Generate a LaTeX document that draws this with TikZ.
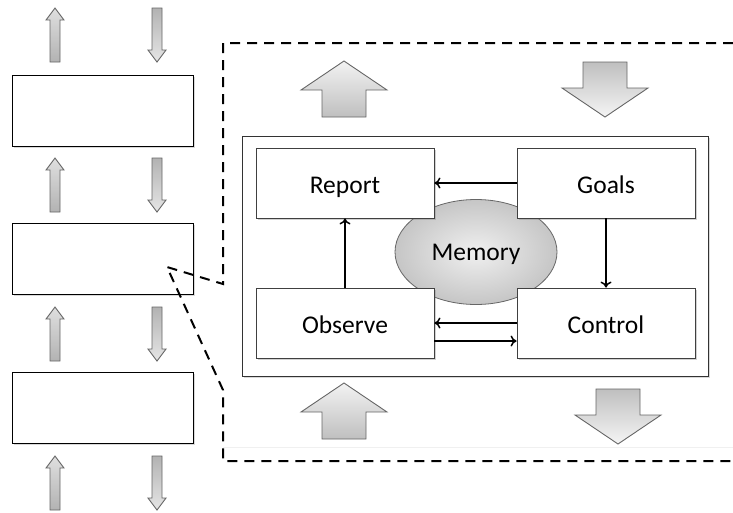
\documentclass[tikz,border=0pt]{standalone}
\usepackage{fontspec}
\setmainfont{Carlito}
\usetikzlibrary{shadows,arrows.meta,shapes.geometric}
\tikzset{
  blk/.style={draw=black!75, line width=0.9pt, fill=white, minimum width=178pt, minimum height=70pt, inner sep=0pt,
    drop shadow={shadow xshift=1.6pt, shadow yshift=-1.6pt, opacity=0.35, fill=gray}, font=\fontsize{25.5}{28}\selectfont,
    text height=21pt, text depth=0pt},
  lbox/.style={draw=black, line width=0.9pt, fill=white, minimum width=181pt, minimum height=71pt, inner sep=0pt,
    drop shadow={shadow xshift=1.6pt, shadow yshift=-1.6pt, opacity=0.3, fill=gray}},
  outer/.style={draw=black!80, line width=0.9pt, fill=white, minimum width=466pt, minimum height=240pt, inner sep=0pt,
    drop shadow={shadow xshift=1.6pt, shadow yshift=-1.6pt, opacity=0.3, fill=gray}},
  mem/.style={ellipse, draw=black!60, line width=0.8pt, inner color=gray!12, outer color=gray!45, minimum width=162pt, minimum height=105pt, inner sep=0pt,
    font=\fontsize{25.5}{28}\selectfont, text height=16pt, text depth=0pt},
  conn/.style={line width=1.8pt, -{To[length=6pt,width=11pt,line width=1.5pt]}},
  callout/.style={line width=2pt, dash pattern=on 10pt off 7pt},
  arrline/.style={draw=black!60, line width=0.9pt, line join=miter},
  smallup/.pic={\path[arrline, top color=gray!25, bottom color=gray!60] (0,0) -- (9,12) -- (5,12) -- (5,54) -- (-5,54) -- (-5,12) -- (-9,12) -- cycle;},
  smalldown/.pic={\path[arrline, top color=gray!60, bottom color=gray!20] (-5,0) -- (5,0) -- (5,42) -- (9,42) -- (0,54) -- (-9,42) -- (-5,42) -- cycle;},
  bigup/.pic={\path[arrline, top color=gray!10, bottom color=gray!50] (0,0) -- (43,29) -- (22,29) -- (22,56) -- (-22,56) -- (-22,29) -- (-43,29) -- cycle;},
  bigdown/.pic={\path[arrline, top color=gray!50, bottom color=gray!8] (-22,0) -- (22,0) -- (22,26) -- (43,26) -- (0,55) -- (-43,26) -- (-22,26) -- cycle;}
}
\begin{document}
\begin{tikzpicture}[x=1pt,y=-1pt]
\useasboundingbox (0,0) rectangle (733,512);

% left column boxes
\node[lbox] (b1) at (102.5,110.5) {};
\node[lbox] (b2) at (102.5,259) {};
\node[lbox] (b3) at (102.5,407.5) {};

% small arrows
\foreach \yy [count=\i] in {8,158,307,456} {
  \pic (su\i) at (55,\yy) {smallup};
  \pic (sd\i) at (157,\yy) {smalldown};
}

% dashed callout
\coordinate (c1) at (733,43);
\coordinate (c2) at (223,43);
\coordinate (c3) at (223,284);
\coordinate (c4) at (167,267);
\coordinate (c5) at (223,390);
\coordinate (c6) at (223,461);
\coordinate (c7) at (733,461);
\draw[gray!12, line width=0.6pt] (223,447) -- (733,447);
\draw[callout] (c1) -- (c2) -- (c3) -- (c4) -- (c5) -- (c6) -- (c7);

% big arrows
\pic at (344,61) {bigup};
\pic at (605,62) {bigdown};
\pic at (344,383) {bigup};
\pic at (618,389) {bigdown};

% inner system
\node[outer] (sys) at (475,256) {};
\node[mem] (memory) at (476,252) {Memory};
\node[blk] (report) at (345,183) {Report};
\node[blk] (goals) at (606,183) {Goals};
\node[blk] (observe) at (345,323) {Observe};
\node[blk] (control) at (606,323) {Control};

\draw[conn] (goals.west) -- (report.east);
\draw[conn] (goals.south) -- (control.north);
\draw[conn] (observe.north) -- (report.south);
\draw[conn] (control.west) -- (observe.east);
\draw[conn] ([yshift=-18pt]observe.east) -- ([yshift=-18pt]control.west);
\end{tikzpicture}
\end{document}
